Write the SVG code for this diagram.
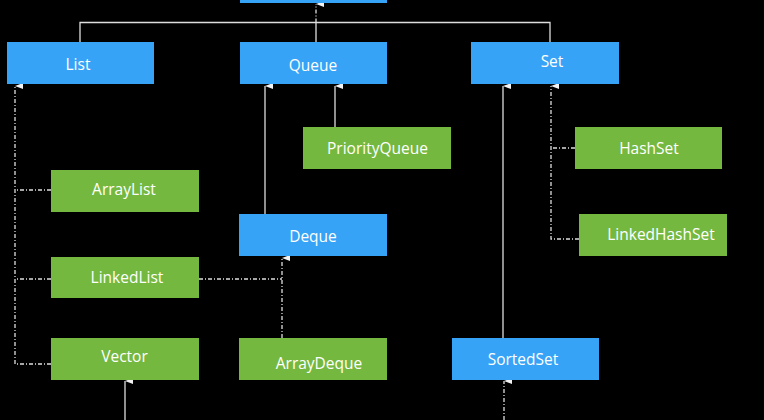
<svg xmlns="http://www.w3.org/2000/svg" width="764" height="420" viewBox="0 0 764 420">
<defs>
<style>
.blue{fill:#36A3F7;}
.green{fill:#75B83F;}
.t{font-family:"Open Sans","Noto Sans",sans-serif;font-size:15.5px;fill:#ffffff;text-anchor:middle;}
.s{stroke:#dddddd;stroke-width:1.3;fill:none;}
.d{stroke:#dddddd;stroke-width:1.3;fill:none;stroke-dasharray:4 2 1 2;}
</style>
<marker id="ah" viewBox="0 0 6 8" refX="3" refY="0" markerWidth="6" markerHeight="8" markerUnits="userSpaceOnUse" orient="auto-start-reverse">
<path d="M3,0 L6,8 L0,8 Z" fill="#f2f2f2"/>
</marker>
</defs>
<rect width="764" height="420" fill="#000000"/>
<g id="connectors">
<polyline class="s" points="80,42 80,22.5 550,22.5 550,42"/>
<line class="s" x1="316" y1="42" x2="316" y2="22.5"/>
<line class="d" x1="316" y1="22.5" x2="316" y2="4" marker-end="url(#ah)"/>
<polyline class="d" points="51,190 15,190"/>
<polyline class="d" points="51,279 15,279"/>
<polyline class="d" points="51,364 15,364 15,86" marker-end="url(#ah)"/>
<line class="s" x1="265" y1="214" x2="265" y2="86" marker-end="url(#ah)"/>
<line class="s" x1="335" y1="127" x2="335" y2="86" marker-end="url(#ah)"/>
<polyline class="d" points="199,279 282,279"/>
<line class="d" x1="282" y1="338" x2="282" y2="258" marker-end="url(#ah)"/>
<line class="s" x1="125" y1="420" x2="125" y2="381" marker-end="url(#ah)"/>
<line class="s" x1="503" y1="338" x2="503" y2="86" marker-end="url(#ah)"/>
<polyline class="d" points="575,148 551,148"/>
<polyline class="d" points="579,239 551,239 551,86" marker-end="url(#ah)"/>
<line class="d" x1="504" y1="420" x2="504" y2="381" marker-end="url(#ah)"/>
</g>
<g id="Collection"><rect class="blue" x="240" y="-40" width="147" height="43"/></g>
<g id="List"><rect class="blue" x="7" y="42" width="147" height="42"/><text class="t" x="78" y="69.5">List</text></g>
<g id="Queue"><rect class="blue" x="240" y="42" width="147" height="42"/><text class="t" x="313" y="71">Queue</text></g>
<g id="Set"><rect class="blue" x="471" y="42" width="148" height="42"/><text class="t" x="552" y="66.5">Set</text></g>
<g id="PriorityQueue"><rect class="green" x="303" y="127" width="148" height="42"/><text class="t" x="377.5" y="153.5">PriorityQueue</text></g>
<g id="HashSet"><rect class="green" x="575" y="127" width="147" height="42"/><text class="t" x="649" y="153.5">HashSet</text></g>
<g id="ArrayList"><rect class="green" x="51" y="170" width="148" height="42"/><text class="t" x="124" y="195">ArrayList</text></g>
<g id="Deque"><rect class="blue" x="239" y="214" width="148" height="42"/><text class="t" x="313" y="242">Deque</text></g>
<g id="LinkedHashSet"><rect class="green" x="579" y="214" width="148" height="42"/><text class="t" x="661" y="240">LinkedHashSet</text></g>
<g id="LinkedList"><rect class="green" x="51" y="257" width="148" height="41"/><text class="t" x="127" y="283">LinkedList</text></g>
<g id="Vector"><rect class="green" x="51" y="338" width="148" height="42"/><text class="t" x="124.5" y="361.5">Vector</text></g>
<g id="ArrayDeque"><rect class="green" x="239" y="338" width="148" height="42"/><text class="t" x="319" y="369">ArrayDeque</text></g>
<g id="SortedSet"><rect class="blue" x="452" y="338" width="147" height="42"/><text class="t" x="523" y="364.5">SortedSet</text></g>
</svg>
